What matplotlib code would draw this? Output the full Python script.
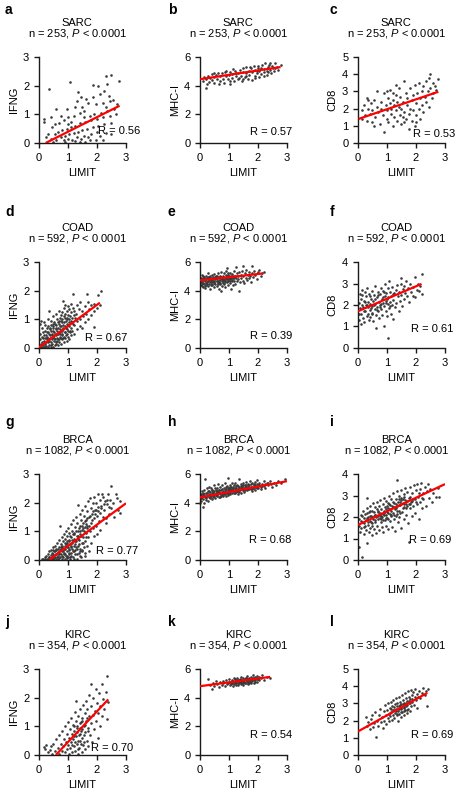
# Correlación LIMIT vs IFNG / MHC-I / CD8 en cuatro tipos tumorales (cuadrícula 4x3)

import numpy as np
import matplotlib.pyplot as plt

plt.rcParams['font.family'] = ['Liberation Sans', 'DejaVu Sans']
plt.rcParams['mathtext.fontset'] = 'custom'
plt.rcParams['mathtext.rm'] = 'Liberation Sans'
plt.rcParams['mathtext.it'] = 'Liberation Sans:italic'

# --- 1. Datos ---

cancer_types = ['SARC', 'COAD', 'BRCA', 'KIRC']
n_samples = [253, 592, 1082, 354]
genes = ['IFNG', 'MHC-I', 'CD8']
panel_letters = ['a', 'b', 'c', 'd', 'e', 'f', 'g', 'h', 'i', 'j', 'k', 'l']
r_values = [0.56, 0.57, 0.53, 0.67, 0.39, 0.61, 0.77, 0.68, 0.69, 0.70, 0.54, 0.69]
y_tops = [3, 6, 5, 3, 6, 4, 3, 6, 4, 3, 6, 5]
y_steps = [1, 2, 1, 1, 2, 1, 1, 2, 1, 1, 2, 1]

# rectas de regresión: extremos (x0, x1), (y0, y1)
fit_x = [(0.23, 2.78), (0.0, 2.78), (0.02, 2.77),
         (0.0, 2.10), (0.0, 2.17), (0.0, 2.19),
         (0.37, 3.0), (0.0, 3.0), (0.0, 3.0),
         (0.58, 2.39), (0.0, 2.42), (0.0, 2.39)]
fit_y = [(0.0, 1.30), (4.45, 5.30), (1.40, 2.98),
         (0.02, 1.58), (4.72, 5.20), (1.71, 2.98),
         (0.02, 1.98), (4.37, 5.50), (1.63, 3.53),
         (0.0, 1.94), (4.80, 5.45), (1.37, 3.61)]

sarc_ifng = [(0.17,0.84),(0.17,0.72),(0.35,1.88),(1.08,2.13),(2.30,2.33),(2.48,2.38),(2.77,2.15),
    (2.36,2.05),(1.85,2.03),(2.05,2.0),(1.35,1.78),(1.62,1.55),(1.85,1.62),(2.1,1.7),(2.25,1.8),
    (2.4,1.65),(2.55,1.5),(2.45,1.45),(2.2,1.4),(1.95,1.35),(1.7,1.4),(1.5,1.25),(1.25,1.25),
    (0.95,1.2),(0.6,1.18),(2.6,1.2),(2.35,1.1),(2.15,1.05),(1.9,1.0),(1.75,0.95),(1.55,0.9),
    (1.4,1.05),(1.2,0.95),(1.0,0.9),(0.85,0.8),(0.7,0.7),(0.55,0.65),(0.45,0.55),(0.3,0.3),
    (0.25,0.2),(0.4,0.15),(0.55,0.3),(0.65,0.4),(0.8,0.45),(0.95,0.5),(1.1,0.55),(1.25,0.6),
    (1.4,0.7),(1.6,0.75),(1.8,0.8),(2.0,0.85),(2.2,0.9),(2.45,0.95),(2.65,1.0),(0.75,0.2),
    (0.9,0.25),(1.05,0.3),(1.2,0.35),(1.35,0.4),(1.5,0.45),(1.65,0.5),(1.85,0.55),(2.05,0.6),
    (2.25,0.65),(2.5,0.7),(0.6,0.1),(0.85,0.1),(1.0,0.15),(1.15,0.1),(1.3,0.2),(1.45,0.15),
    (1.55,0.25),(1.7,0.2),(1.8,0.3),(1.95,0.1),(2.1,0.25),(2.3,0.35),(2.5,0.3),(2.2,0.1),
    (1.6,0.05),(1.4,0.05),(1.25,0.08),(0.9,0.05),(0.5,0.05),(1.75,0.1),(2.0,0.4),(1.1,0.75),
    (0.75,0.95),(1.3,1.45),(1.55,1.1),(2.3,1.25),(2.7,1.35),(0.4,0.9),(1.45,1.6),(1.0,0.65)]

sarc_mhc = [(0.12,4.3),(0.15,4.6),(0.2,3.85),(0.22,4.45),(0.28,4.7),(0.3,4.25),(0.35,4.55),
    (0.4,4.8),(0.42,4.4),(0.48,4.6),(0.5,4.2),(0.55,4.75),(0.6,4.5),(0.62,4.9),(0.68,4.35),
    (0.7,4.65),(0.75,4.85),(0.8,4.5),(0.82,4.2),(0.88,4.7),(0.9,5.0),(0.95,4.45),(1.0,4.75),
    (1.02,4.1),(1.05,4.95),(1.1,4.55),(1.12,4.8),(1.18,4.35),(1.2,5.05),(1.25,4.65),(1.3,4.9),
    (1.32,4.45),(1.38,5.1),(1.4,4.7),(1.45,4.3),(1.48,4.95),(1.5,5.2),(1.55,4.6),(1.58,4.85),
    (1.6,5.3),(1.65,4.5),(1.68,5.0),(1.7,4.75),(1.75,5.2),(1.78,4.4),(1.8,4.95),(1.85,5.35),
    (1.88,4.7),(1.9,5.1),(1.95,4.85),(2.0,5.4),(2.02,4.6),(2.05,5.05),(2.1,5.25),(2.12,4.8),
    (2.15,5.45),(2.2,4.95),(2.22,5.15),(2.25,5.55),(2.3,5.0),(2.32,4.75),(2.35,5.3),(2.4,5.6),
    (2.42,5.1),(2.45,4.9),(2.5,5.4),(2.52,5.2),(2.55,5.0),(2.6,5.55),(2.65,5.3),(2.7,5.1),
    (2.78,5.45),(0.5,4.9),(0.85,4.95),(1.15,5.15),(1.35,4.55),(1.6,4.65),(1.9,4.55),(2.2,4.7),
    (2.0,5.2),(1.72,5.3),(2.38,5.45),(0.25,4.15),(0.65,4.1),(1.05,4.3),(1.5,4.45),(1.95,5.0),
    (2.6,5.2),(2.35,4.95),(1.25,4.9)]

sarc_cd8 = [(0.15,1.4),(0.15,1.9),(0.2,2.2),(0.25,1.6),(0.3,2.6),(0.3,1.3),(0.35,2.0),(0.4,1.7),
    (0.45,2.3),(0.5,1.2),(0.5,1.9),(0.55,2.5),(0.6,1.5),(0.65,2.1),(0.65,3.0),(0.7,1.8),
    (0.75,1.1),(0.8,2.4),(0.8,2.0),(0.85,1.6),(0.9,2.9),(0.9,0.65),(0.95,2.2),(1.0,1.4),
    (1.0,1.9),(1.05,2.6),(1.05,1.2),(1.1,2.3),(1.1,3.1),(1.15,1.7),(1.15,2.0),(1.2,2.5),
    (1.2,1.0),(1.25,2.2),(1.25,1.5),(1.3,2.8),(1.3,1.9),(1.35,2.4),(1.35,1.3),(1.4,2.1),
    (1.4,3.2),(1.45,1.6),(1.45,2.7),(1.5,2.0),(1.5,1.1),(1.55,2.4),(1.55,1.5),(1.6,3.6),
    (1.6,1.8),(1.65,2.9),(1.65,1.4),(1.7,2.2),(1.7,2.6),(1.75,1.7),(1.75,0.8),(1.8,3.2),
    (1.8,2.0),(1.85,1.3),(1.85,2.5),(1.9,2.8),(1.9,1.9),(1.95,3.4),(1.95,1.0),(2.0,2.3),
    (2.0,1.6),(2.05,2.9),(2.1,2.0),(2.1,3.5),(2.15,2.6),(2.15,1.4),(2.2,3.0),(2.2,2.2),
    (2.25,3.3),(2.25,1.8),(2.3,2.7),(2.35,3.6),(2.35,2.4),(2.4,3.0),(2.45,3.8),(2.45,2.1),
    (2.5,4.0),(2.5,3.2),(2.55,2.6),(2.6,3.5),(2.6,2.9),(2.65,3.3),(2.7,3.1),(2.75,3.7),
    (1.0,3.0),(0.55,1.0),(1.3,3.4),(0.35,2.5),(1.2,2.9),(2.0,1.2),(1.6,1.2)]

coad_ifng = [(0.04,0.02),(0.06,0.1),(0.03,0.3),(0.05,0.5),(0.04,0.85),(0.06,0.95),
    (0.1,0.05),(0.11,0.2),(0.09,0.4),(0.12,0.7),(0.15,0.1),(0.16,0.25),(0.14,0.55),(0.17,0.9),
    (0.2,0.02),(0.21,0.15),(0.19,0.35),(0.22,0.6),(0.2,0.8),(0.25,0.08),(0.26,0.3),(0.24,0.45),
    (0.27,0.7),(0.3,0.05),(0.31,0.2),(0.29,0.4),(0.32,0.55),(0.3,0.75),(0.31,1.0),
    (0.35,0.1),(0.36,0.3),(0.34,0.5),(0.37,0.65),(0.35,1.3),(0.4,0.05),(0.41,0.2),(0.39,0.35),
    (0.42,0.6),(0.4,0.8),(0.41,0.95),(0.45,0.15),(0.46,0.3),(0.44,0.45),(0.47,0.7),(0.45,0.5),
    (0.5,0.05),(0.51,0.25),(0.49,0.4),(0.52,0.55),(0.5,0.75),(0.51,0.9),(0.49,1.1),
    (0.55,0.1),(0.56,0.3),(0.54,0.5),(0.57,0.65),(0.55,0.85),(0.6,0.2),(0.61,0.35),(0.59,0.45),
    (0.62,0.6),(0.6,0.8),(0.61,1.0),(0.59,1.2),(0.65,0.1),(0.66,0.3),(0.64,0.5),(0.67,0.7),
    (0.65,0.9),(0.7,0.2),(0.71,0.4),(0.69,0.55),(0.72,0.65),(0.7,0.85),(0.71,1.05),(0.69,1.3),
    (0.75,0.15),(0.76,0.35),(0.74,0.5),(0.77,0.75),(0.75,0.95),(0.76,1.15),(0.8,0.3),(0.81,0.45),
    (0.79,0.6),(0.82,0.8),(0.8,1.0),(0.81,1.25),(0.83,1.63),(0.85,0.2),(0.86,0.4),(0.84,0.65),
    (0.87,0.9),(0.85,1.1),(0.86,1.4),(0.9,0.35),(0.91,0.55),(0.89,0.75),(0.92,0.95),(0.9,1.2),
    (0.91,1.5),(0.95,0.25),(0.96,0.5),(0.94,0.7),(0.97,0.85),(0.95,1.05),(0.96,1.3),
    (1.0,0.4),(1.01,0.6),(0.99,0.8),(1.02,1.0),(1.0,1.15),(1.01,1.45),(1.05,0.3),(1.06,0.55),
    (1.04,0.9),(1.07,1.1),(1.05,1.35),(1.1,0.45),(1.11,0.7),(1.09,0.95),(1.12,1.25),(1.1,1.55),
    (1.15,0.6),(1.16,0.85),(1.14,1.05),(1.17,1.4),(1.18,1.89),(1.2,0.5),(1.21,0.8),(1.19,1.15),
    (1.22,1.3),(1.3,0.65),(1.31,0.95),(1.29,1.2),(1.32,1.5),(1.4,0.75),(1.41,1.0),(1.39,1.35),
    (1.42,1.6),(1.5,0.7),(1.51,1.1),(1.49,1.3),(1.6,0.9),(1.61,1.2),(1.59,1.45),(1.66,1.88),
    (1.7,1.0),(1.71,1.35),(1.69,1.6),(1.8,1.15),(1.81,1.5),(1.9,0.74),(1.91,1.3),(1.89,1.55),
    (2.0,1.4),(2.04,1.86),(2.13,2.0),(2.1,1.5),
    (0.08,0.15),(0.13,0.35),(0.18,0.05),(0.23,0.2),(0.28,0.35),(0.33,0.25),(0.38,0.45),
    (0.43,0.1),(0.48,0.6),(0.53,0.35),(0.58,0.15),(0.63,0.5),(0.68,0.3),(0.73,0.75),(0.78,0.5),
    (0.83,0.35),(0.88,0.55),(0.93,0.45),(0.98,0.65),(1.03,0.75),(1.08,0.6),(0.58,0.7),
    (0.68,0.95),(0.78,0.9),(0.88,1.05),(0.98,1.0),(1.13,0.9),(1.25,1.05),(0.48,0.85),
    (0.38,0.7),(0.28,0.55),(0.18,0.45),(0.73,0.55),(0.83,0.7),(0.63,0.25)]

coad_mhc = [(0.02,4.4),(0.03,4.9),(0.05,4.6),(0.06,5.1),(0.08,4.3),(0.1,4.75),(0.11,5.0),
    (0.13,4.5),(0.15,4.85),(0.16,4.2),(0.18,4.65),(0.2,5.05),(0.21,4.4),(0.23,4.9),(0.25,4.6),
    (0.27,5.2),(0.28,4.3),(0.3,4.75),(0.32,4.5),(0.33,5.0),(0.35,4.15),(0.37,4.85),(0.38,4.6),
    (0.4,5.1),(0.42,4.4),(0.43,4.7),(0.45,4.95),(0.47,4.25),(0.48,4.55),(0.5,5.15),(0.52,4.8),
    (0.53,4.45),(0.55,5.0),(0.57,4.65),(0.58,4.3),(0.6,4.9),(0.62,5.25),(0.63,4.55),(0.65,4.75),
    (0.67,4.1),(0.68,5.05),(0.7,4.5),(0.71,4.0),(0.72,4.85),(0.74,5.3),(0.75,4.65),(0.77,4.35),
    (0.78,5.0),(0.8,4.8),(0.82,4.5),(0.83,5.2),(0.85,4.7),(0.87,4.25),(0.88,4.95),(0.9,5.4),
    (0.92,4.6),(0.93,4.85),(0.94,5.59),(0.95,5.1),(0.97,4.4),(0.98,4.75),(1.0,5.0),(1.02,4.55),
    (1.03,5.25),(1.05,4.8),(1.06,4.1),(1.08,4.95),(1.1,4.65),(1.12,5.15),(1.13,4.4),(1.15,4.85),
    (1.17,5.35),(1.18,4.7),(1.2,5.05),(1.22,4.5),(1.23,5.66),(1.25,4.9),(1.27,5.2),(1.28,4.65),
    (1.3,5.0),(1.32,4.8),(1.35,3.98),(1.35,5.3),(1.38,4.6),(1.4,5.1),(1.42,4.85),(1.45,5.4),
    (1.48,5.7),(1.48,4.7),(1.5,5.0),(1.53,4.55),(1.55,5.2),(1.58,4.9),(1.6,5.45),(1.63,4.75),
    (1.65,5.1),(1.68,5.3),(1.7,4.85),(1.73,5.0),(1.75,4.6),(1.79,5.72),(1.8,5.25),(1.83,4.95),
    (1.85,5.4),(1.9,5.1),(1.95,4.8),(2.0,5.3),(2.05,5.45),(2.1,5.0),(2.15,5.2),(2.19,5.29),
    (0.05,4.75),(0.12,4.55),(0.2,4.8),(0.3,4.95),(0.4,4.7),(0.5,4.6),(0.55,4.85),(0.65,4.95),
    (0.75,4.9),(0.85,4.6),(0.95,4.9),(1.05,4.65),(1.15,5.0),(0.35,4.6),(0.45,4.8),(0.6,4.7),
    (0.7,4.75),(0.8,4.65),(0.9,4.8),(1.0,4.85),(0.15,4.95),(0.25,4.45),(0.1,4.25),
    (0.07,4.6),(0.17,4.75),(0.27,4.65),(0.37,4.75),(0.47,4.65),(0.57,4.9),(0.67,4.6),
    (0.77,4.8),(0.87,4.85),(0.97,4.65),(1.07,4.85),(0.12,4.85),(0.22,4.55),(0.32,4.85),
    (0.42,4.5),(0.52,4.95),(0.62,4.45),(0.72,4.95),(0.82,4.75),(0.92,5.0),(1.02,4.9),
    (1.12,4.75),(1.22,5.0),(0.08,4.5),(0.18,4.35),(0.28,4.95),(0.38,4.4),(0.48,4.85),
    (0.58,5.05),(0.68,4.55),(0.78,4.55),(0.88,5.1),(0.98,5.2),(1.08,5.05),(1.18,4.9)]

coad_cd8 = [(0.02,1.6),(0.03,2.1),(0.05,1.3),(0.06,2.5),(0.08,1.85),(0.1,1.1),(0.1,2.3),
    (0.12,1.6),(0.14,2.0),(0.15,2.7),(0.17,1.4),(0.18,1.9),(0.2,2.2),(0.22,1.2),(0.23,2.6),
    (0.25,1.7),(0.27,2.0),(0.28,2.4),(0.3,1.5),(0.32,2.8),(0.33,1.9),(0.35,2.15),(0.37,1.3),
    (0.38,2.5),(0.4,1.75),(0.42,2.05),(0.43,1.45),(0.45,2.3),(0.47,2.65),(0.48,1.6),(0.5,1.95),
    (0.52,2.2),(0.53,1.25),(0.55,2.45),(0.57,1.8),(0.58,2.9),(0.6,2.05),(0.62,1.55),(0.63,0.95),
    (0.65,2.35),(0.67,1.9),(0.68,2.6),(0.7,1.7),(0.72,2.15),(0.73,1.4),(0.75,2.5),(0.77,2.0),
    (0.78,2.8),(0.8,1.8),(0.82,2.3),(0.83,1.55),(0.85,2.1),(0.87,2.65),(0.89,1.02),(0.9,1.95),
    (0.92,2.4),(0.93,3.0),(0.95,1.7),(0.97,2.2),(0.98,2.55),(1.0,1.5),(1.02,2.05),(1.03,2.8),
    (1.05,0.47),(1.05,2.35),(1.07,1.85),(1.08,3.1),(1.1,2.15),(1.12,2.6),(1.13,1.6),(1.15,2.4),
    (1.17,2.0),(1.18,2.85),(1.2,1.35),(1.22,2.25),(1.25,2.55),(1.27,1.9),(1.3,2.7),(1.32,2.1),
    (1.35,2.95),(1.37,2.4),(1.4,1.7),(1.42,2.6),(1.45,2.2),(1.48,3.0),(1.5,3.24),(1.5,2.45),
    (1.53,1.95),(1.55,2.75),(1.58,2.3),(1.6,2.9),(1.63,2.55),(1.65,3.1),(1.7,2.4),(1.72,2.8),
    (1.75,2.15),(1.8,3.0),(1.83,2.6),(1.88,2.85),(1.9,2.4),(1.96,3.28),(1.98,2.35),(2.02,2.7),
    (2.08,3.0),(2.11,2.63),(2.15,2.9),(2.19,3.45),(2.2,2.5),(0.3,2.0),(0.45,1.85),(0.55,2.0),
    (0.65,1.75),(0.75,1.9),(0.85,2.35),(0.95,2.1),(0.4,2.4),(0.6,2.3),(0.8,2.05),(1.0,2.3),
    (0.2,1.7),(0.15,2.45),(0.5,1.65),(0.7,2.45),(0.9,2.6),(1.1,1.95),(1.2,2.5),(0.35,1.6),
    (0.25,2.15)]

brca_ifng = [(0.1,0.02),(0.15,0.05),(0.2,0.1),(0.22,0.02),(0.25,0.15),(0.28,0.05),(0.3,0.2),
    (0.3,0.02),(0.33,0.1),(0.35,0.3),(0.38,0.05),(0.4,0.18),(0.42,0.35),(0.45,0.08),(0.45,0.25),
    (0.48,0.45),(0.5,0.02),(0.5,0.15),(0.52,0.3),(0.55,0.1),(0.55,0.5),(0.58,0.2),(0.6,0.38),
    (0.6,0.05),(0.62,0.6),(0.65,0.15),(0.65,0.28),(0.68,0.45),(0.7,0.08),(0.7,0.7),(0.72,1.19),
    (0.72,0.35),(0.75,0.2),(0.75,0.55),(0.78,0.02),(0.78,0.8),(0.8,0.3),(0.8,0.45),(0.82,0.12),
    (0.83,0.65),(0.85,0.9),(0.85,0.25),(0.88,0.5),(0.88,0.05),(0.9,0.38),(0.9,0.75),(0.92,0.15),
    (0.93,1.0),(0.95,0.6),(0.95,0.3),(0.97,0.85),(0.98,0.08),(1.0,0.45),(1.0,1.1),(1.02,0.2),
    (1.03,0.7),(1.05,0.95),(1.05,0.35),(1.07,0.55),(1.08,0.02),(1.1,1.25),(1.1,0.8),(1.12,0.25),
    (1.13,0.6),(1.15,1.0),(1.15,0.4),(1.17,0.12),(1.18,1.4),(1.2,0.75),(1.2,0.5),(1.22,0.9),
    (1.23,0.2),(1.25,1.15),(1.25,0.35),(1.27,0.65),(1.28,1.5),(1.3,0.05),(1.3,0.85),(1.32,1.3),
    (1.33,0.5),(1.35,1.0),(1.35,1.92),(1.37,0.25),(1.38,0.7),(1.4,1.6),(1.4,1.2),(1.42,0.4),
    (1.43,0.9),(1.45,1.4),(1.45,0.1),(1.47,0.6),(1.48,1.75),(1.5,1.05),(1.5,0.3),(1.52,1.3),
    (1.53,0.8),(1.55,1.55),(1.55,0.45),(1.57,1.15),(1.58,1.9),(1.6,0.65),(1.6,0.15),(1.62,1.4),
    (1.63,0.95),(1.65,1.7),(1.65,0.5),(1.67,1.2),(1.68,2.05),(1.7,0.8),(1.72,1.5),(1.73,0.3),
    (1.75,2.15),(1.75,1.0),(1.78,1.8),(1.8,1.3),(1.8,0.6),(1.82,1.6),(1.85,2.0),(1.85,1.1),
    (1.88,0.85),(1.9,1.45),(1.9,2.2),(1.92,1.75),(1.95,1.2),(1.97,2.0),(2.0,1.55),(2.0,0.9),
    (2.02,2.3),(2.05,1.85),(2.07,1.35),(2.1,2.1),(2.1,1.65),(2.12,1.05),(2.15,1.9),(2.18,2.3),
    (2.2,1.5),(2.21,2.21),(2.25,1.75),(2.28,2.05),(2.3,1.3),(2.31,1.45),(2.35,1.95),(2.38,2.3),
    (2.4,1.6),(2.45,2.1),(2.5,2.59),(2.5,1.8),(2.55,2.0),(2.6,1.5),(2.65,2.3),(2.68,2.15),
    (2.72,1.75),(2.79,1.63),(2.8,2.05),(0.6,0.22),(0.7,0.25),(0.8,0.15),(0.9,0.2),(1.0,0.1),
    (1.1,0.15),(1.2,0.3),(0.95,0.45),(1.05,0.65),(1.15,0.7),(1.25,0.55),(1.35,0.75),(1.45,0.85),
    (0.85,0.4),(0.75,0.38),(1.3,0.4),(1.4,0.3),(1.55,1.0),(1.65,1.1),(1.2,0.95),(1.1,0.45),
    (0.65,0.4),(0.55,0.3),(0.4,0.08),(0.5,0.35),
    (0.35,0.12),(0.42,0.05),(0.47,0.2),(0.52,0.08),(0.57,0.35),(0.62,0.12),(0.67,0.05),
    (0.68,0.22),(0.73,0.1),(0.77,0.45),(0.82,0.3),(0.87,0.2),(0.92,0.55),(0.97,0.15),
    (1.02,0.4),(1.07,0.1),(1.12,0.5),(1.17,0.3),(1.22,0.05),(1.27,0.45),(1.32,0.2),(1.37,0.55),
    (1.42,0.15),(1.47,0.35),(1.52,0.6),(1.57,0.25),(1.62,0.8),(0.97,0.65),(1.07,0.85),
    (1.17,0.9),(1.27,1.0),(1.37,1.1),(1.47,1.2),(1.57,1.35),(1.67,1.45),(1.77,1.55),(1.87,1.7),
    (1.97,1.75),(1.03,0.25),(0.88,0.6),(0.78,0.5),(1.23,0.65),(1.33,0.85),(1.43,1.0),(1.53,1.1),
    (1.63,1.25),(1.73,1.2),(1.83,1.4),(1.93,1.6),(2.03,1.7),(2.13,1.8),(2.23,1.95),(2.33,2.1),
    (2.43,1.85)]

brca_mhc = [(0.0,3.95),(0.02,4.3),(0.03,4.6),(0.05,4.1),(0.07,4.45),(0.08,4.8),(0.1,4.25),
    (0.12,3.72),(0.12,4.6),(0.14,4.0),(0.15,4.9),(0.17,5.63),(0.17,4.4),(0.2,4.7),(0.22,4.2),
    (0.23,5.0),(0.25,4.5),(0.27,4.8),(0.28,4.1),(0.3,4.6),(0.32,5.1),(0.33,4.35),(0.35,4.75),
    (0.37,4.5),(0.38,5.0),(0.4,4.25),(0.42,4.65),(0.43,4.9),(0.45,4.4),(0.47,5.2),(0.48,4.6),
    (0.5,4.8),(0.52,4.3),(0.53,5.05),(0.55,4.55),(0.57,4.75),(0.58,4.45),(0.6,5.0),(0.62,4.65),
    (0.63,5.3),(0.65,4.4),(0.67,4.85),(0.68,4.6),(0.7,5.1),(0.72,4.5),(0.73,4.9),(0.75,4.7),
    (0.77,5.2),(0.78,4.45),(0.8,4.8),(0.82,5.0),(0.83,4.6),(0.85,5.35),(0.87,4.75),(0.88,4.5),
    (0.9,4.95),(0.92,5.15),(0.93,4.65),(0.95,4.85),(0.98,5.7),(0.98,4.55),(1.0,5.05),(1.02,4.75),
    (1.03,5.25),(1.05,4.6),(1.07,4.9),(1.08,5.1),(1.1,4.7),(1.12,5.35),(1.13,4.85),(1.15,5.0),
    (1.17,4.65),(1.18,5.2),(1.2,4.9),(1.22,5.4),(1.23,4.75),(1.25,5.05),(1.27,4.8),(1.28,5.25),
    (1.3,4.95),(1.32,4.6),(1.35,5.63),(1.35,5.1),(1.37,4.85),(1.4,5.3),(1.42,5.0),(1.43,4.7),
    (1.45,5.15),(1.47,5.4),(1.48,4.9),(1.5,5.05),(1.52,4.75),(1.55,5.25),(1.57,5.0),(1.6,5.45),
    (1.62,4.85),(1.65,5.15),(1.67,5.3),(1.7,4.95),(1.72,5.5),(1.75,5.1),(1.78,4.8),(1.8,5.35),
    (1.83,5.0),(1.85,5.2),(1.88,5.45),(1.9,4.9),(1.93,5.1),(1.95,5.3),(1.98,5.55),(2.0,5.0),
    (2.03,5.2),(2.05,5.4),(2.1,5.1),(2.12,4.95),(2.15,5.3),(2.2,5.5),(2.22,5.15),(2.25,5.0),
    (2.3,5.35),(2.35,5.2),(2.4,5.5),(2.45,5.3),(2.5,5.1),(2.55,5.4),(2.62,5.25),(2.7,5.5),
    (2.8,5.35),(2.94,5.63),(0.3,4.4),(0.45,4.6),(0.6,4.55),(0.75,4.95),(0.9,4.75),(1.05,4.95),
    (1.2,4.7),(1.35,4.95),(1.5,5.25),(1.65,4.95),(1.8,5.1),(0.2,4.5),(0.35,4.55),(0.55,4.9),
    (0.7,4.7),(0.85,4.6),(1.0,4.85),(1.15,5.1),(1.3,5.15),(1.45,4.95),(1.6,5.1),(1.75,5.3),
    (0.4,4.85),(0.65,4.75),(0.95,5.0),(1.25,4.9),(1.55,4.9),(1.85,5.05),(0.1,4.45),(0.05,4.3),
    (0.05,4.5),(0.15,4.6),(0.25,4.7),(0.35,4.4),(0.45,4.75),(0.55,4.7),(0.65,4.9),(0.75,4.55),
    (0.85,4.85),(0.95,4.7),(1.05,5.1),(1.15,4.8),(1.25,5.15),(1.35,4.75),(1.45,5.05),(1.55,5.1),
    (1.65,5.0),(1.75,4.95),(1.85,5.3),(1.95,5.0),(2.05,5.25),(2.15,5.15),(2.25,5.3),(2.35,5.4),
    (0.1,4.65),(0.2,4.35),(0.3,4.8),(0.4,4.55),(0.5,4.45),(0.6,4.8),(0.7,4.4),(0.8,4.65),
    (0.9,5.1),(1.0,4.65),(1.1,4.95),(1.2,5.0),(1.3,4.8),(1.4,5.15),(1.5,4.85),(1.6,5.25),
    (1.7,5.2),(1.8,4.95),(1.9,5.25),(2.0,5.15)]

brca_cd8 = [(0.03,0.62),(0.05,1.6),(0.05,1.9),(0.08,1.3),(0.1,2.1),(0.12,1.5),(0.15,0.16),
    (0.15,1.75),(0.17,2.3),(0.2,1.2),(0.2,1.95),(0.22,1.55),(0.25,2.15),(0.27,1.4),(0.28,1.85),
    (0.3,2.4),(0.32,0.78),(0.32,2.87),(0.33,1.65),(0.35,2.0),(0.37,1.3),(0.38,2.25),(0.4,1.8),
    (0.42,1.5),(0.43,2.5),(0.45,2.05),(0.47,1.15),(0.48,1.7),(0.5,2.3),(0.52,1.9),(0.53,2.65),
    (0.55,1.45),(0.57,2.1),(0.58,1.75),(0.6,2.45),(0.62,1.25),(0.63,2.0),(0.65,2.7),(0.67,1.6),
    (0.68,2.25),(0.7,1.9),(0.72,2.5),(0.73,1.4),(0.75,2.1),(0.77,2.8),(0.78,1.75),(0.8,2.35),
    (0.82,1.55),(0.83,2.0),(0.85,2.6),(0.87,1.3),(0.88,2.2),(0.9,2.9),(0.92,1.85),(0.93,2.45),
    (0.95,1.6),(0.97,2.1),(0.98,2.75),(1.0,1.95),(1.02,2.4),(1.03,1.45),(1.05,2.2),(1.07,3.0),
    (1.08,2.6),(1.1,1.8),(1.12,2.35),(1.13,2.05),(1.15,2.85),(1.17,1.55),(1.18,2.5),(1.2,2.2),
    (1.22,3.1),(1.23,1.9),(1.25,2.65),(1.27,2.35),(1.28,1.35),(1.3,2.85),(1.32,2.05),(1.33,2.5),
    (1.35,3.2),(1.36,3.72),(1.37,1.75),(1.38,2.7),(1.4,2.3),(1.42,3.0),(1.43,2.0),(1.45,2.55),
    (1.47,1.5),(1.48,2.8),(1.5,3.25),(1.52,2.25),(1.55,2.65),(1.57,3.05),(1.58,1.9),(1.6,2.45),
    (1.62,3.35),(1.63,2.8),(1.65,2.1),(1.67,2.6),(1.7,3.15),(1.72,1.7),(1.75,2.9),(1.76,0.85),
    (1.78,2.4),(1.8,3.4),(1.82,2.7),(1.85,2.05),(1.87,3.1),(1.9,2.5),(1.92,3.5),(1.95,2.85),
    (1.98,2.2),(2.0,3.25),(2.03,2.6),(2.05,3.55),(2.08,2.95),(2.1,1.9),(2.13,3.3),(2.15,2.7),
    (2.18,3.6),(2.2,2.4),(2.23,3.1),(2.25,2.85),(2.3,3.4),(2.33,2.5),(2.37,3.2),(2.4,3.55),
    (2.45,2.9),(2.5,3.3),(2.55,2.7),(2.6,3.1),(2.69,2.95),(2.75,3.35),(2.8,2.91),(0.4,2.05),
    (0.6,2.1),(0.8,2.05),(1.0,2.25),(1.2,2.45),(1.4,2.55),(1.6,2.6),(1.8,2.95),(0.5,1.6),
    (0.7,2.3),(0.9,2.3),(1.1,2.55),(1.3,2.6),(1.5,2.9),(1.7,2.75),(0.3,1.95),(0.55,2.25),
    (0.75,1.95),(0.95,2.35),(1.15,2.3),(1.35,2.3),(1.55,2.4),(1.45,2.2),(1.25,2.1),(1.05,1.9),
    (0.85,1.85),
    (0.1,1.8),(0.2,1.7),(0.3,2.2),(0.4,2.3),(0.5,2.0),(0.6,1.85),(0.7,2.05),(0.8,1.9),
    (0.9,2.1),(1.0,2.5),(1.1,2.15),(1.2,2.7),(1.3,2.4),(1.4,2.85),(1.5,2.6),(1.6,2.95),
    (1.7,2.5),(1.8,2.6),(1.9,2.85),(2.0,2.7),(2.1,3.1),(2.2,2.9),(0.45,1.75),(0.55,2.05),
    (0.65,2.35),(0.75,2.2),(0.85,2.15),(0.95,1.95),(1.05,2.65),(1.15,2.1),(1.25,2.45),
    (1.35,2.15),(1.45,2.7),(1.55,2.85),(1.65,2.4),(1.75,2.6),(1.85,2.75),(0.35,1.75),
    (0.25,1.6),(0.15,2.05)]

kirc_ifng = [(0.16,0.28),(0.2,0.2),(0.25,0.35),(0.3,0.1),(0.37,0.18),(0.4,0.3),(0.45,0.05),
    (0.5,0.4),(0.55,0.15),(0.6,0.55),(0.65,0.25),(0.68,0.05),(0.7,0.7),(0.75,0.4),(0.78,0.15),
    (0.8,0.85),(0.82,0.3),(0.85,0.55),(0.88,0.1),(0.9,1.0),(0.92,0.45),(0.95,0.2),(0.97,0.75),
    (1.0,0.35),(1.0,1.15),(1.02,0.05),(1.05,0.6),(1.07,0.9),(1.08,0.25),(1.1,1.3),(1.12,0.45),
    (1.13,0.75),(1.15,0.1),(1.17,1.05),(1.18,0.55),(1.2,0.3),(1.22,0.85),(1.23,1.5),(1.25,0.15),
    (1.27,0.65),(1.27,1.9),(1.28,1.2),(1.3,0.4),(1.32,0.95),(1.33,0.05),(1.35,1.35),(1.37,0.7),
    (1.38,0.25),(1.4,1.1),(1.42,0.5),(1.43,1.6),(1.45,0.85),(1.47,0.1),(1.48,1.3),(1.5,0.6),
    (1.52,1.75),(1.53,0.35),(1.55,1.0),(1.57,1.45),(1.58,0.2),(1.6,0.8),(1.62,1.2),(1.63,1.9),
    (1.65,0.5),(1.67,1.6),(1.68,0.95),(1.7,0.3),(1.72,1.35),(1.73,2.1),(1.75,0.7),(1.78,2.46),
    (1.78,1.1),(1.8,1.7),(1.82,0.45),(1.85,1.4),(1.87,2.0),(1.9,0.9),(1.92,1.55),(1.95,2.3),
    (1.97,1.2),(2.0,1.8),(2.02,0.6),(2.05,1.45),(2.08,2.15),(2.1,1.0),(2.12,1.7),(2.16,2.46),
    (2.18,1.35),(2.2,1.95),(2.25,1.6),(2.3,2.2),(2.35,2.76),(2.35,1.24),(2.38,1.85),(1.2,0.65),
    (1.3,0.8),(1.4,0.75),(1.5,0.9),(1.45,0.4),(1.35,0.5),(1.25,0.45),(1.15,0.35),(1.55,0.7),
    (1.6,1.05),(1.5,1.2),(1.4,0.95),(1.3,1.0),(1.2,1.0),(1.65,1.3),(1.7,0.85),(1.45,1.15),
    (1.55,0.45),(1.35,0.2)]

kirc_mhc = [(0.29,5.27),(0.35,4.9),(0.4,4.59),(0.45,5.0),(0.5,4.8),(0.55,5.15),(0.6,4.95),
    (0.65,4.75),(0.7,5.1),(0.75,4.9),(0.78,5.18),(0.8,5.0),(0.85,4.8),(0.9,5.2),(0.93,4.95),
    (0.95,5.05),(1.0,5.3),(1.02,4.85),(1.05,5.1),(1.07,4.95),(1.1,5.25),(1.12,5.05),(1.13,4.8),
    (1.15,5.15),(1.17,5.35),(1.18,4.95),(1.2,5.1),(1.22,5.0),(1.23,5.25),(1.25,4.9),(1.27,5.15),
    (1.28,5.4),(1.3,5.05),(1.32,4.85),(1.33,5.2),(1.35,5.0),(1.37,5.3),(1.38,5.1),(1.4,4.95),
    (1.42,5.25),(1.43,5.45),(1.45,5.05),(1.47,5.15),(1.48,4.9),(1.5,5.35),(1.52,5.1),(1.53,5.2),
    (1.55,5.0),(1.57,5.4),(1.58,5.25),(1.6,5.05),(1.62,5.15),(1.63,5.5),(1.65,5.3),(1.67,4.95),
    (1.68,5.2),(1.7,5.4),(1.72,5.1),(1.73,5.25),(1.75,5.0),(1.77,5.45),(1.78,5.3),(1.8,5.15),
    (1.82,5.55),(1.83,5.35),(1.85,5.05),(1.87,5.25),(1.88,5.45),(1.9,5.2),(1.92,5.35),(1.95,5.1),
    (1.97,5.5),(2.0,5.3),(2.03,5.2),(2.05,5.45),(2.1,5.35),(2.15,5.55),(2.2,5.25),(2.3,5.45),
    (2.4,5.35),(1.25,5.05),(1.35,5.15),(1.45,5.25),(1.55,5.3),(1.65,5.1),(1.75,5.2),(1.85,5.4),
    (1.3,5.25),(1.4,5.1),(1.5,5.0),(1.6,5.35),(1.7,5.0),(1.8,5.3),(1.9,5.1),(1.2,5.3),(1.1,5.0),
    (1.0,5.1),(1.95,5.3)]

kirc_cd8 = [(0.29,2.23),(0.3,1.7),(0.35,1.9),(0.4,1.5),(0.45,2.1),(0.5,2.33),(0.52,1.6),
    (0.55,1.85),(0.6,2.5),(0.63,1.05),(0.65,2.0),(0.7,1.7),(0.72,2.35),(0.75,2.7),(0.8,1.9),
    (0.82,2.2),(0.85,1.55),(0.88,2.55),(0.9,2.0),(0.92,2.9),(0.95,2.3),(0.98,1.8),(1.0,2.6),
    (1.02,2.15),(1.05,3.0),(1.07,2.4),(1.08,1.95),(1.1,2.75),(1.12,2.25),(1.13,3.1),(1.15,2.5),
    (1.17,2.05),(1.18,2.85),(1.2,2.35),(1.22,3.2),(1.23,2.6),(1.25,2.15),(1.27,2.95),(1.28,2.45),
    (1.3,3.3),(1.32,2.7),(1.33,2.3),(1.35,3.05),(1.37,2.55),(1.38,2.0),(1.4,2.85),(1.42,3.4),
    (1.43,2.4),(1.45,3.1),(1.47,2.65),(1.48,2.2),(1.5,2.95),(1.52,3.5),(1.53,2.5),(1.55,3.2),
    (1.57,2.75),(1.58,2.3),(1.6,3.0),(1.62,3.6),(1.63,2.6),(1.65,3.3),(1.67,2.85),(1.68,2.45),
    (1.7,3.15),(1.72,3.7),(1.73,2.7),(1.75,3.4),(1.77,3.0),(1.78,2.55),(1.8,3.25),(1.82,3.8),
    (1.83,2.85),(1.85,3.5),(1.87,3.1),(1.9,3.65),(1.92,2.9),(1.95,3.35),(1.97,3.85),(2.0,3.2),
    (2.03,3.55),(2.05,2.75),(2.08,3.4),(2.1,3.75),(2.15,3.3),(2.2,3.6),(2.25,3.9),(2.3,3.5),
    (2.35,3.75),(2.39,2.86),(2.4,3.85),(1.2,2.6),(1.3,2.55),(1.4,2.65),(1.5,2.75),(1.6,2.8),
    (1.7,2.9),(1.8,3.0),(1.25,2.8),(1.35,2.85),(1.45,2.9),(1.55,2.95),(1.65,3.05),(1.75,3.15),
    (1.85,3.25),(1.15,2.7),(1.35,2.4),(1.5,2.5),(1.6,2.55),(1.7,2.6),(1.1,2.45)]

panel_points = [sarc_ifng, sarc_mhc, sarc_cd8,
                coad_ifng, coad_mhc, coad_cd8,
                brca_ifng, brca_mhc, brca_cd8,
                kirc_ifng, kirc_mhc, kirc_cd8]

# --- 2. Diseño de la figura ---

W, H = 460, 793
fig = plt.figure(figsize=(W / 100, H / 100), dpi=100)

col_left = [39, 200, 358]      # px
row_top = [57, 262, 474, 669]  # px
ax_w, ax_h = 87, 86

# posición (x, y) del texto R en coordenadas de ejes (borde derecho)
r_pos = [(1.16, 0.14), (1.06, 0.13), (1.12, 0.10),
         (1.02, 0.12), (1.06, 0.14), (1.10, 0.22),
         (1.14, 0.10), (1.05, 0.23), (1.07, 0.23),
         (1.08, 0.08), (1.06, 0.235), (1.10, 0.235)]

for k in range(12):
    row, col = divmod(k, 3)
    left = col_left[col] / W
    bottom = 1 - (row_top[row] + ax_h) / H
    ax = fig.add_axes([left, bottom, ax_w / W, ax_h / H])

    pts = np.array(panel_points[k])
    ax.scatter(pts[:, 0], pts[:, 1], s=3.5, color='#3a3a3a', linewidths=0,
               clip_on=False, zorder=2)
    ax.plot(fit_x[k], fit_y[k], color='#ff0000', linewidth=1.6, zorder=3,
            solid_capstyle='butt')

    ax.set_xlim(0, 3)
    ax.set_ylim(0, y_tops[k])
    ax.set_xticks([0, 1, 2, 3])
    ax.set_yticks(np.arange(0, y_tops[k] + 0.1, y_steps[k]))
    for side in ['top', 'right']:
        ax.spines[side].set_visible(False)
    for side in ['left', 'bottom']:
        ax.spines[side].set_linewidth(1.0)
        ax.spines[side].set_color('#1a1a1a')
    ax.tick_params(direction='out', length=3.5, width=1.0, labelsize=8,
                   color='#1a1a1a', pad=3.5)
    ax.set_xlabel('LIMIT', fontsize=8, labelpad=4)
    ax.set_ylabel(genes[col], fontsize=8, labelpad=3)

    ax.text(0.44, 1.40, cancer_types[row], transform=ax.transAxes,
            ha='center', va='center', fontsize=8)
    ax.text(0.44, 1.27, f'n = {n_samples[row]}, $P$ < 0.0001',
            transform=ax.transAxes, ha='center', va='center', fontsize=8)
    rx, ry = r_pos[k]
    ax.text(rx, ry, f'R = {r_values[k]:.2f}', transform=ax.transAxes,
            ha='right', va='center', fontsize=8)

# letras de panel
letter_x = [5, 168, 330]
letter_y = [10, 212, 422, 622]
for k in range(12):
    row, col = divmod(k, 3)
    fig.text(letter_x[col] / W, 1 - letter_y[row] / H, panel_letters[k],
             fontsize=10, fontweight='bold', ha='left', va='center')

fig.savefig('out.png', dpi=100)
